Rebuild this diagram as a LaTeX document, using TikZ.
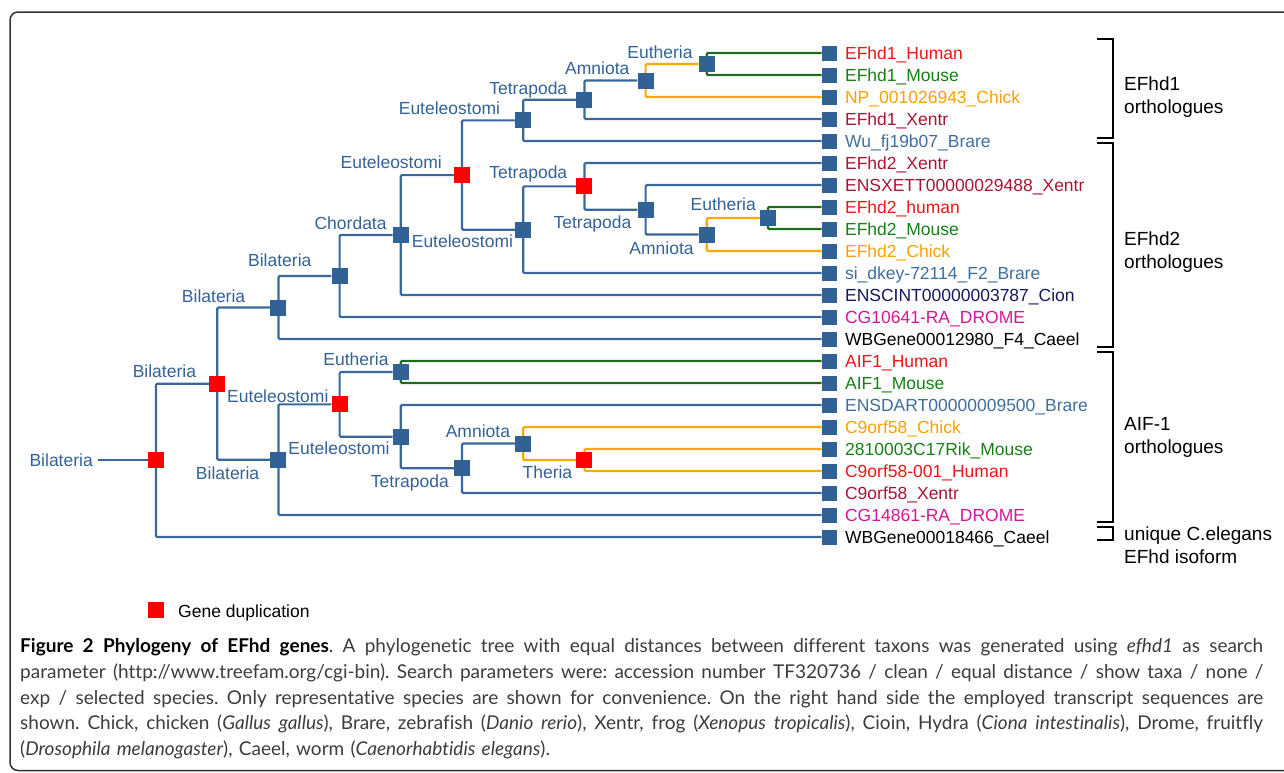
\documentclass[tikz,border=0pt]{standalone}
\usepackage{fontspec}
\usetikzlibrary{backgrounds}
\newfontfamily\treesans{Liberation Sans}
\newfontfamily\capsans[Ligatures=NoCommon]{Lato}
\newcommand{\treefont}{\treesans\fontsize{17.5}{21}\selectfont}
\newcommand{\groupfont}{\treesans\fontsize{19}{23}\selectfont}
\newcommand{\capfont}{\capsans\fontsize{19}{23}\selectfont\frenchspacing\spaceskip=0.33em plus 0.4em minus 0.12em\relax}
\definecolor{boxblue}{RGB}{50,97,150}
\definecolor{lineblue}{RGB}{58,104,156}
\definecolor{taxblue}{RGB}{52,98,150}
\definecolor{lineorange}{RGB}{255,166,0}
\definecolor{linegreen}{RGB}{28,110,28}
\definecolor{gred}{RGB}{236,22,22}
\definecolor{ggreen}{RGB}{22,128,22}
\definecolor{gorange}{RGB}{255,160,0}
\definecolor{gcrimson}{RGB}{170,20,52}
\definecolor{gblue}{RGB}{62,110,160}
\definecolor{gnavy}{RGB}{22,22,100}
\definecolor{gmagenta}{RGB}{212,22,150}
\definecolor{capgray}{RGB}{60,60,60}
\definecolor{framegray}{RGB}{50,50,50}
\tikzset{branch/.style={lineblue, line width=2.2pt, rounded corners=1.2pt},
         orangebranch/.style={branch, lineorange},
         greenbranch/.style={branch, linegreen},
         spec/.style={fill=boxblue, minimum size=16pt, inner sep=0pt},
         dupl/.style={spec, fill=red},
         leaf/.style={fill=boxblue, minimum size=15pt, inner sep=0pt},
         taxon/.style={anchor=east, inner sep=0pt, text=taxblue, font=\treefont, text height=12.6pt, text depth=0pt},
         gene/.style={anchor=west, inner sep=0pt, font=\treefont, text height=12.6pt, text depth=0pt},
         brace/.style={black, line width=2.3pt},
         group/.style={anchor=base west, inner sep=0pt, align=left, font=\groupfont},
         capline/.style={anchor=base west, inner sep=0pt, text=capgray, font=\capfont}}

\begin{document}
\begin{tikzpicture}[x=1pt,y=-1pt]
   \path[use as bounding box] (0,0) rectangle (1284,772);
   \draw[framegray, line width=1.5pt, rounded corners=8pt] (10,12) rectangle (1300,770.5);
   \begin{scope}[shift={(156pt,-53pt)}, x=61.2pt, y=-22pt]
     % leaves
     \node[leaf] (l1)  at (11,0)  {};
     \node[leaf] (l2)  at (11,1)  {};
     \node[leaf] (l3)  at (11,2)  {};
     \node[leaf] (l4)  at (11,3)  {};
     \node[leaf] (l5)  at (11,4)  {};
     \node[leaf] (l6)  at (11,5)  {};
     \node[leaf] (l7)  at (11,6)  {};
     \node[leaf] (l8)  at (11,7)  {};
     \node[leaf] (l9)  at (11,8)  {};
     \node[leaf] (l10) at (11,9)  {};
     \node[leaf] (l11) at (11,10) {};
     \node[leaf] (l12) at (11,11) {};
     \node[leaf] (l13) at (11,12) {};
     \node[leaf] (l14) at (11,13) {};
     \node[leaf] (l15) at (11,14) {};
     \node[leaf] (l16) at (11,15) {};
     \node[leaf] (l17) at (11,16) {};
     \node[leaf] (l18) at (11,17) {};
     \node[leaf] (l19) at (11,18) {};
     \node[leaf] (l20) at (11,19) {};
     \node[leaf] (l21) at (11,20) {};
     \node[leaf] (l22) at (11,21) {};
     \node[leaf] (l23) at (11,22) {};
     \node[gene, text=gred]     (g1)  at ([xshift=8pt]l1.east)  {EFhd1\_Human};
     \node[gene, text=ggreen]   (g2)  at ([xshift=8pt]l2.east)  {EFhd1\_Mouse};
     \node[gene, text=gorange]  (g3)  at ([xshift=8pt]l3.east)  {NP\_001026943\_Chick};
     \node[gene, text=gcrimson] (g4)  at ([xshift=8pt]l4.east)  {EFhd1\_Xentr};
     \node[gene, text=gblue]    (g5)  at ([xshift=8pt]l5.east)  {Wu\_fj19b07\_Brare};
     \node[gene, text=gcrimson] (g6)  at ([xshift=8pt]l6.east)  {EFhd2\_Xentr};
     \node[gene, text=gcrimson] (g7)  at ([xshift=8pt]l7.east)  {ENSXETT00000029488\_Xentr};
     \node[gene, text=gred]     (g8)  at ([xshift=8pt]l8.east)  {EFhd2\_human};
     \node[gene, text=ggreen]   (g9)  at ([xshift=8pt]l9.east)  {EFhd2\_Mouse};
     \node[gene, text=gorange]  (g10) at ([xshift=8pt]l10.east) {EFhd2\_Chick};
     \node[gene, text=gblue]    (g11) at ([xshift=8pt]l11.east) {si\_dkey-72114\_F2\_Brare};
     \node[gene, text=gnavy]    (g12) at ([xshift=8pt]l12.east) {ENSCINT00000003787\_Cion};
     \node[gene, text=gmagenta] (g13) at ([xshift=8pt]l13.east) {CG10641-RA\_DROME};
     \node[gene, text=black]    (g14) at ([xshift=8pt]l14.east) {WBGene00012980\_F4\_Caeel};
     \node[gene, text=gred]     (g15) at ([xshift=8pt]l15.east) {AIF1\_Human};
     \node[gene, text=ggreen]   (g16) at ([xshift=8pt]l16.east) {AIF1\_Mouse};
     \node[gene, text=gblue]    (g17) at ([xshift=8pt]l17.east) {ENSDART00000009500\_Brare};
     \node[gene, text=gorange]  (g18) at ([xshift=8pt]l18.east) {C9orf58\_Chick};
     \node[gene, text=ggreen]   (g19) at ([xshift=8pt]l19.east) {2810003C17Rik\_Mouse};
     \node[gene, text=gred]     (g20) at ([xshift=8pt]l20.east) {C9orf58-001\_Human};
     \node[gene, text=gcrimson] (g21) at ([xshift=8pt]l21.east) {C9orf58\_Xentr};
     \node[gene, text=gmagenta] (g22) at ([xshift=8pt]l22.east) {CG14861-RA\_DROME};
     \node[gene, text=black]    (g23) at ([xshift=8pt]l23.east) {WBGene00018466\_Caeel};
     % inner nodes
     \node[spec] (euthA)  at (9,0.5)     {};
     \node[spec] (amnA)   at (8,1.25)    {};
     \node[spec] (tetA)   at (7,2.125)   {};
     \node[spec] (eutA)   at (6,3.0625)  {};
     \node[spec] (euthB)  at (10,7.5)    {};
     \node[spec] (amnB)   at (9,8.25)    {};
     \node[spec] (tetB)   at (8,7.125)   {};
     \node[dupl] (tetD)   at (7,6.0625)  {};
     \node[spec] (eutB)   at (6,8.03)    {};
     \node[dupl] (dupE)   at (5,5.55)    {};
     \node[spec] (chord)  at (4,8.27)    {};
     \node[spec] (bilC)   at (3,10.14)   {};
     \node[spec] (bilD)   at (2,11.57)   {};
     \node[spec] (euthC)  at (4,14.5)    {};
     \node[dupl] (theria) at (7,18.5)    {};
     \node[spec] (amnC)   at (6,17.75)   {};
     \node[spec] (tetC)   at (5,18.875)  {};
     \node[spec] (eutC)   at (4,17.44)   {};
     \node[dupl] (dupC)   at (3,15.97)   {};
     \node[spec] (bilE)   at (2,18.49)   {};
     \node[dupl] (dupB)   at (1,15.03)   {};
     \node[dupl] (root)   at (0,18.5)    {};
     % taxon labels
     \node[taxon] (t-euthA)  at ([shift={(-14pt,11.5pt)}]euthA.center)  {Eutheria};
     \node[taxon] (t-amnA)   at ([shift={(-16pt,12pt)}]amnA.center)    {Amniota};
     \node[taxon] (t-tetA)   at ([shift={(-17pt,12pt)}]tetA.center)    {Tetrapoda};
     \node[taxon] (t-eutA)   at ([shift={(-23pt,12pt)}]eutA.center)    {Euteleostomi};
     \node[taxon] (t-dupE)   at ([shift={(-20pt,13pt)}]dupE.center)    {Euteleostomi};
     \node[taxon] (t-tetD)   at ([shift={(-17pt,14pt)}]tetD.center)    {Tetrapoda};
     \node[taxon] (t-tetB)   at ([shift={(-14pt,-12pt)}]tetB.center)   {Tetrapoda};
     \node[taxon] (t-amnB)   at ([shift={(-13pt,-14pt)}]amnB.center)   {Amniota};
     \node[taxon] (t-euthB)  at ([shift={(-12pt,14pt)}]euthB.center)   {Eutheria};
     \node[taxon] (t-eutB)   at ([shift={(-10pt,-12pt)}]eutB.center)   {Euteleostomi};
     \node[taxon] (t-chord)  at ([shift={(-14pt,12pt)}]chord.center)   {Chordata};
     \node[taxon] (t-bilC)   at ([shift={(-28pt,16pt)}]bilC.center)    {Bilateria};
     \node[taxon] (t-bilD)   at ([shift={(-33pt,11pt)}]bilD.center)    {Bilateria};
     \node[taxon] (t-dupB)   at ([shift={(-21pt,12pt)}]dupB.center)    {Bilateria};
     \node[taxon] (t-dupC)   at ([shift={(-11pt,8pt)}]dupC.center)     {Euteleostomi};
     \node[taxon] (t-bilE)   at ([shift={(-19pt,-13pt)}]bilE.center)   {Bilateria};
     \node[taxon] (t-euthC)  at ([shift={(-12pt,13pt)}]euthC.center)   {Eutheria};
     \node[taxon] (t-eutC)   at ([shift={(-11pt,-12pt)}]eutC.center)   {Euteleostomi};
     \node[taxon] (t-tetC)   at ([shift={(-13pt,-13pt)}]tetC.center)   {Tetrapoda};
     \node[taxon] (t-amnC)   at ([shift={(-13pt,12pt)}]amnC.center)    {Amniota};
     \node[taxon] (t-theria) at ([shift={(-12pt,-12pt)}]theria.center) {Theria};
     \node[taxon] (t-root)   at ([xshift=-63pt]root.center)            {Bilateria};
     % branches
     \begin{scope}[on background layer]
       \draw[branch] ([xshift=5pt]t-root.east) -- (root);
       \draw[branch] (root.center) |- (dupB);   \draw[branch] (root.center) |- (l23);
       \draw[branch] (dupB.center) |- (bilD);   \draw[branch] (dupB.center) |- (bilE);
       \draw[branch] (bilD.center) |- (bilC);   \draw[branch] (bilD.center) |- (l14);
       \draw[branch] (bilC.center) |- (chord);  \draw[branch] (bilC.center) |- (l13);
       \draw[branch] (chord.center) |- (dupE);  \draw[branch] (chord.center) |- (l12);
       \draw[branch] (dupE.center) |- (eutA);   \draw[branch] (dupE.center) |- (eutB);
       \draw[branch] (eutA.center) |- (tetA);   \draw[branch] (eutA.center) |- (l5);
       \draw[branch] (tetA.center) |- (amnA);   \draw[branch] (tetA.center) |- (l4);
       \draw[orangebranch] (amnA.center) |- (euthA); \draw[orangebranch] (amnA.center) |- (l3);
       \draw[greenbranch] (euthA.center) |- (l1);    \draw[greenbranch] (euthA.center) |- (l2);
       \draw[branch] (eutB.center) |- (tetD);   \draw[branch] (eutB.center) |- (l11);
       \draw[branch] (tetD.center) |- (l6);     \draw[branch] (tetD.center) |- (tetB);
       \draw[branch] (tetB.center) |- (l7);     \draw[branch] (tetB.center) |- (amnB);
       \draw[orangebranch] (amnB.center) |- (euthB); \draw[orangebranch] (amnB.center) |- (l10);
       \draw[greenbranch] (euthB.center) |- (l8);    \draw[greenbranch] (euthB.center) |- (l9);
       \draw[branch] (bilE.center) |- (dupC);   \draw[branch] (bilE.center) |- (l22);
       \draw[branch] (dupC.center) |- (euthC);  \draw[branch] (dupC.center) |- (eutC);
       \draw[greenbranch] (euthC.center) |- (l15);   \draw[greenbranch] (euthC.center) |- (l16);
       \draw[branch] (eutC.center) |- (l17);    \draw[branch] (eutC.center) |- (tetC);
       \draw[branch] (tetC.center) |- (amnC);   \draw[branch] (tetC.center) |- (l21);
       \draw[orangebranch] (amnC.center) |- (l18);   \draw[orangebranch] (amnC.center) |- (theria);
       \draw[orangebranch] (theria.center) |- (l19); \draw[orangebranch] (theria.center) |- (l20);
     \end{scope}
   \end{scope}
   % groups
   \draw[brace] (1097,39) -- (1113,39) -- (1113,138) -- (1097,138);
   \draw[brace] (1097,143) -- (1113,143) -- (1113,347) -- (1097,347);
   \draw[brace] (1097,352) -- (1113,352) -- (1113,522) -- (1097,522);
   \draw[brace] (1097,527) -- (1113,527) -- (1113,540) -- (1097,540);
   \node[group] (grp1) at (1124,113) {EFhd1\\orthologues};
   \node[group] (grp2) at (1124,268) {EFhd2\\orthologues};
   \node[group] (grp3) at (1124,453) {AIF-1\\orthologues};
   \node[group] (grp4) at (1124,563) {unique C.elegans\\EFhd isoform};
   % legend
   \node[dupl] (legdup) at (156,610) {};
   \node[gene, text=black] (legtxt) at (178,611) {Gene duplication};
   % caption
   \node[capline] (cap1) at (20,652) {\makebox[1243pt][s]{\textbf{\color{black}Figure 2 Phylogeny of EFhd genes}. A phylogenetic tree with equal distances between different taxons was generated using \textit{efhd1} as search}};
   \node[capline] (cap2) at (20,678) {\makebox[1243pt][s]{parameter (http://www.treefam.org/cgi-bin). Search parameters were: accession number TF320736 / clean / equal distance / show taxa / none /}};
   \node[capline] (cap3) at (20,704) {\makebox[1243pt][s]{exp / selected species. Only representative species are shown for convenience. On the right hand side the employed transcript sequences are}};
   \node[capline] (cap4) at (20,729) {\makebox[1243pt][s]{shown. Chick, chicken (\textit{Gallus gallus}), Brare, zebrafish (\textit{Danio rerio}), Xentr, frog (\textit{Xenopus tropicalis}), Cioin, Hydra (\textit{Ciona intestinalis}), Drome, fruitfly}};
   \node[capline] (cap5) at (20,755) {(\textit{Drosophila melanogaster}), Caeel, worm (\textit{Caenorhabtidis elegans}).};
\end{tikzpicture}
\end{document}
